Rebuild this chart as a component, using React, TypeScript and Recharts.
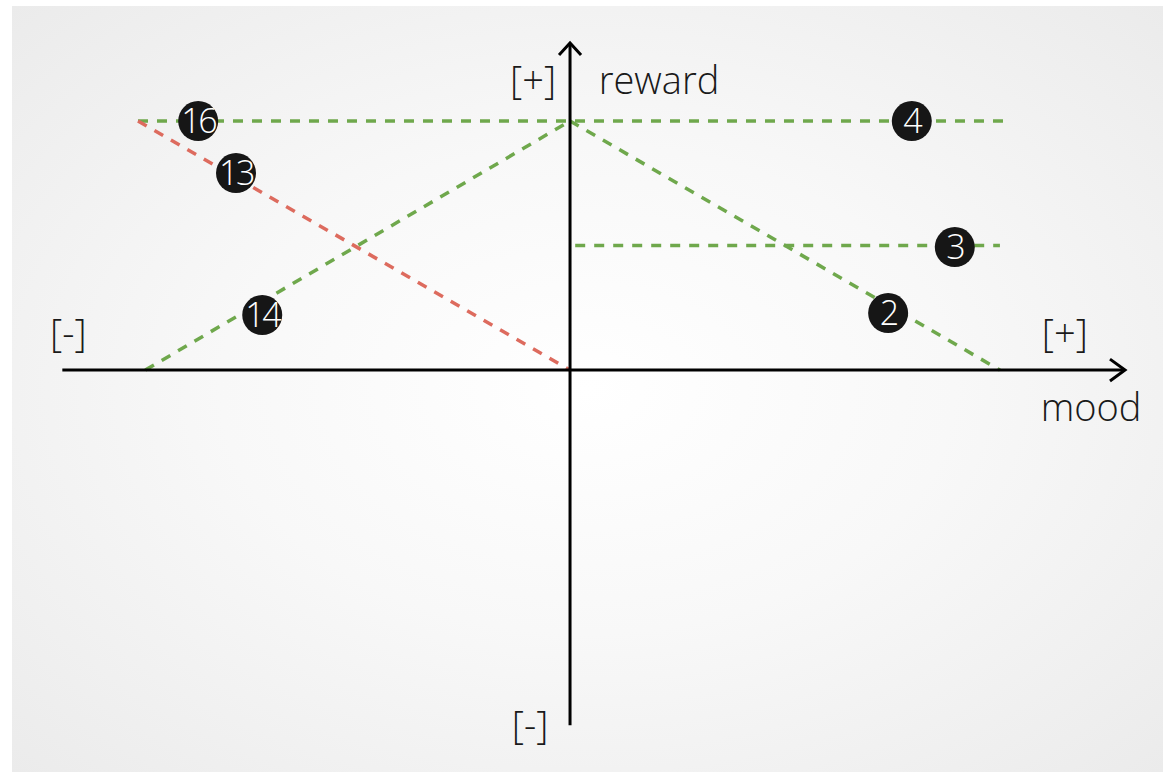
import { ComposedChart, Line, Scatter, XAxis, YAxis } from "recharts";

// mood (x) / reward (y) in abstract units, origin where the axes cross
const GREEN = "#6fa84c";
const RED = "#dd6b5e";

const topFlat = [
  { x: -10.05, y: 10 },
  { x: 10.1, y: 10 },
];
const redFall = [
  { x: -10.05, y: 10 },
  { x: 0, y: 0 },
];
const greenRise = [
  { x: -9.88, y: 0 },
  { x: 0, y: 10 },
];
const greenFall = [
  { x: 0, y: 10 },
  { x: 10, y: 0 },
];
const midFlat = [
  { x: 0.12, y: 5 },
  { x: 10, y: 5 },
];

const moodAxis = [
  { x: -11.81, y: 0 },
  { x: 12.91, y: 0 },
];
const rewardAxis = [
  { x: 0, y: -14.26 },
  { x: 0, y: 13.13 },
];
const moodArrow = [
  { x: 12.56, y: 0.44 },
  { x: 12.91, y: 0 },
  { x: 12.56, y: -0.44 },
];
const rewardArrow = [
  { x: -0.256, y: 12.65 },
  { x: 0, y: 13.13 },
  { x: 0.256, y: 12.65 },
];

const badges = [
  { x: -8.65, y: 10, label: "16" },
  { x: -7.77, y: 7.91, label: "13" },
  { x: -7.16, y: 2.21, label: "14" },
  { x: 7.95, y: 10, label: "4" },
  { x: 8.95, y: 4.94, label: "3" },
  { x: 7.4, y: 2.29, label: "2" },
];

const labels = [
  { x: -0.86, y: 11.08, label: "[+]" },
  { x: 2.07, y: 11.08, label: "reward" },
  { x: -11.67, y: 0.92, label: "[-]" },
  { x: 11.51, y: 0.92, label: "[+]" },
  { x: 12.12, y: -2.05, label: "mood" },
  { x: -0.93, y: -14.82, label: "[-]" },
];

const X_DOMAIN = [-13.26, 13.84];
const Y_DOMAIN = [-16.14, 14.86];

const W = 1165;
const H = 772;

function Badge(props: any) {
  const { cx, cy, payload } = props;
  return (
    <g>
      <circle cx={cx} cy={cy} r={20} fill="#161616" />
      <text
        x={cx}
        y={cy + 12}
        textAnchor="middle"
        fill="#fff"
        fontSize={34}
        fontFamily="Open Sans"
        fontWeight={300}
        letterSpacing={-2.5}
      >
        {payload.label}
      </text>
    </g>
  );
}

function AxisText(props: any) {
  const { cx, cy, payload } = props;
  return (
    <text
      x={cx}
      y={cy}
      textAnchor="middle"
      fill="#1a1a1a"
      fontSize={38}
      fontFamily="Open Sans"
      fontWeight={300}
    >
      {payload.label}
    </text>
  );
}

const dashed = (data: { x: number; y: number }[], color: string, key: string) => (
  <Line
    key={key}
    data={data}
    dataKey="y"
    stroke={color}
    strokeWidth={3.5}
    strokeDasharray="10 9"
    dot={false}
    activeDot={false}
    isAnimationActive={false}
  />
);

const solid = (data: { x: number; y: number }[], key: string) => (
  <Line
    key={key}
    data={data}
    dataKey="y"
    stroke="#000"
    strokeWidth={3}
    strokeLinejoin="miter"
    dot={false}
    activeDot={false}
    isAnimationActive={false}
  />
);

export default function App() {
  return (
    <div style={{ position: "relative", width: W, height: H, background: "#fff" }}>
      <style>{`body{margin:0}`}</style>
      <div
        style={{
          position: "absolute",
          left: 12,
          top: 6,
          width: 1151,
          height: 766,
          background:
            "radial-gradient(ellipse at 50% 50%, #ffffff 0%, #f8f8f8 45%, #ebebeb 100%)",
        }}
      />
      <div style={{ position: "absolute", left: 0, top: 0 }}>
        <ComposedChart
          width={W}
          height={H}
          margin={{ top: 0, right: 0, bottom: 0, left: 0 }}
        >
          <XAxis
            type="number"
            dataKey="x"
            domain={X_DOMAIN}
            allowDataOverflow
            hide
          />
          <YAxis
            type="number"
            dataKey="y"
            domain={Y_DOMAIN}
            allowDataOverflow
            hide
          />
          {dashed(topFlat, GREEN, "topFlat")}
          {dashed(redFall, RED, "redFall")}
          {dashed(greenRise, GREEN, "greenRise")}
          {dashed(greenFall, GREEN, "greenFall")}
          {dashed(midFlat, GREEN, "midFlat")}
          {solid(moodAxis, "moodAxis")}
          {solid(rewardAxis, "rewardAxis")}
          {solid(moodArrow, "moodArrow")}
          {solid(rewardArrow, "rewardArrow")}
          <Scatter data={badges} shape={<Badge />} isAnimationActive={false} />
          <Scatter data={labels} shape={<AxisText />} isAnimationActive={false} />
        </ComposedChart>
      </div>
    </div>
  );
}
